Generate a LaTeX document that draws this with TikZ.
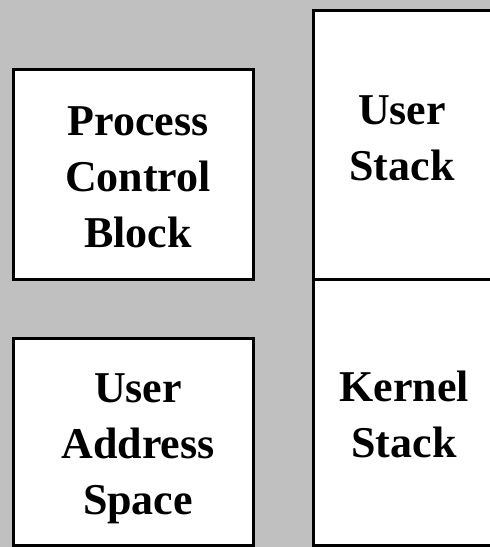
\documentclass[tikz,border=0pt]{standalone}
\usepackage{fontspec}
\setmainfont{Liberation Serif}
\definecolor{bggray}{HTML}{C0C0C0}
\begin{document}
\begin{tikzpicture}[x=1pt,y=-1pt,
  panel/.style={draw=black,fill=white,line width=3pt,rectangle},
  lbl/.style={align=center,inner sep=0pt,font=\fontsize{44}{56}\selectfont\bfseries}]
\fill[bggray] (0,0) rectangle (490,547);
\useasboundingbox (0,0) rectangle (490,547);
\begin{scope}
\clip (0,0) rectangle (490,547);
\node[panel,minimum width=240pt,minimum height=209.5pt] (pcb) at (133,174.25) {};
\node[panel,minimum width=240pt,minimum height=207pt] (uas) at (133,442) {};
\node[panel,minimum width=179pt,minimum height=268.5pt] (us) at (403,144.75) {};
\node[panel,minimum width=179pt,minimum height=266.5pt] (ks) at (403,412.25) {};
\end{scope}
\node[lbl] (pcbt) at (138,177.5) {Process\\Control\\Block};
\node[lbl] (uast) at (138,449) {User\\Address\\Space};
\node[lbl] (ust) at (402,138.5) {User\\Stack};
\node[lbl] (kst) at (404,414) {Kernel\\Stack};
\end{tikzpicture}
\end{document}
